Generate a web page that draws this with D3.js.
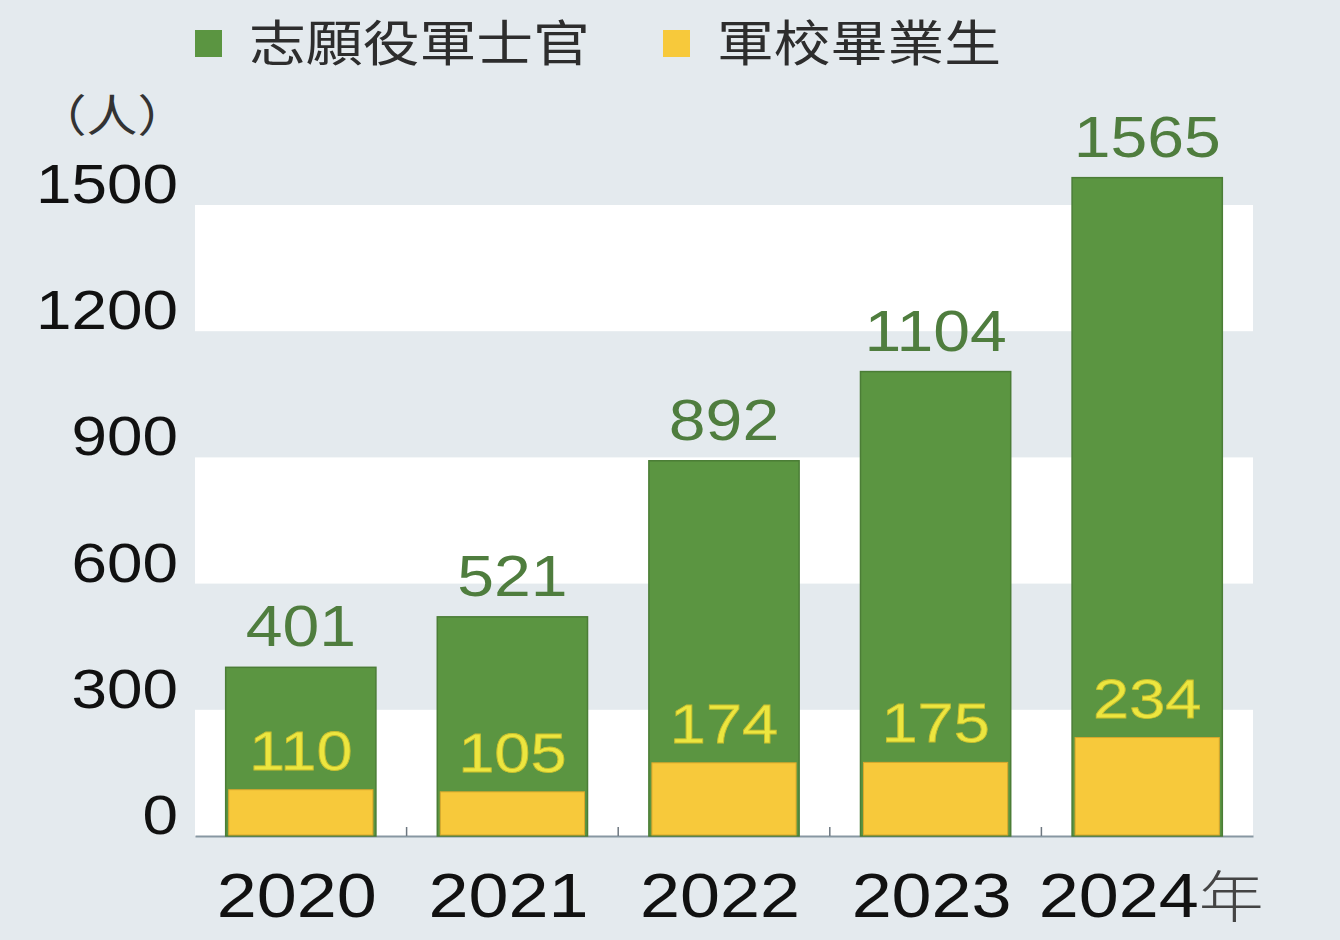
<!DOCTYPE html>
<html>
<head>
<meta charset="utf-8">
<script src="https://cdn.jsdelivr.net/npm/d3@7"></script>
<style>
  body { margin: 0; background: #e4eaee; }
  svg { display: block; }
</style>
</head>
<body>
<div id="chart"></div>
<script>
// data
var years = ['2020', '2021', '2022', '2023', '2024'];
var totals = [401, 521, 892, 1104, 1565];      // 志願役軍士官 total (label on top)
var graduates = [110, 105, 174, 175, 234];     // 軍校畢業生 part
var yTicks = [0, 300, 600, 900, 1200, 1500];
var legendNames = ['志願役軍士官', '軍校畢業生'];

var W = 1340, H = 940;
var plot = {left: 195, right: 1253, top: 205, bottom: 836};
var green = '#5b9541', yellow = '#f7c93b';
var latin = '"Liberation Sans", Arial, sans-serif';
var cjk = '"Noto Sans CJK TC", "Noto Sans CJK SC", sans-serif';
var stretch = 1.16; // the source text is a bit wide

var svg = d3.select('#chart')
    .append('svg')
    .attr('width', W)
    .attr('height', H);

svg.append('rect')
    .attr('width', W)
    .attr('height', H)
    .attr('fill', '#e4eaee');

var x = d3.scaleBand()
    .domain(years)
    .range([plot.left, plot.right])
    .paddingInner(0.29)
    .paddingOuter(0.145);

var y = d3.scaleLinear()
    .domain([0, 1500])
    .range([plot.bottom, plot.top]);

// helper: text placed with a horizontal stretch
function label(g, tx, ty, anchor) {
    return g.attr('text-anchor', anchor)
        .attr('transform', 'translate(' + tx + ',' + ty + ') scale(' + stretch + ',1)');
}

// white bands every other 300
var bands = d3.pairs(yTicks).filter((d, i) => i % 2 == 0);
svg.selectAll('.band')
    .data(bands).enter()
    .append('rect')
    .attr('class', 'band')
    .attr('x', plot.left)
    .attr('width', plot.right - plot.left)
    .attr('y', d => y(d[1]))
    .attr('height', d => y(d[0]) - y(d[1]))
    .attr('fill', '#ffffff');

// y tick labels
svg.selectAll('.ylab')
    .data(yTicks).enter()
    .append('text')
    .attr('class', 'ylab')
    .each(function(d) { label(d3.select(this), 178, y(d) - 2, 'end'); })
    .attr('font-family', latin)
    .attr('font-size', 55)
    .attr('fill', '#111')
    .text(d => d);

label(svg.append('text'), 112, 132, 'middle')
    .attr('font-family', cjk)
    .attr('font-size', 44)
    .attr('fill', '#333')
    .text('（人）');

// x axis line and category ticks
var xAxis = d3.axisBottom(x).tickSize(0).tickFormat('');
svg.append('g')
    .attr('transform', 'translate(0,' + plot.bottom + ')')
    .call(xAxis)
    .call(g => g.select('.domain').attr('stroke', '#8797a2').attr('stroke-width', 2));

svg.selectAll('.sep')
    .data(years.slice(1)).enter()
    .append('line')
    .attr('x1', d => x(d) - x.step() * x.paddingInner() / 2)
    .attr('x2', d => x(d) - x.step() * x.paddingInner() / 2)
    .attr('y1', plot.bottom)
    .attr('y2', plot.bottom - 9)
    .attr('stroke', '#6d7780')
    .attr('stroke-width', 1.5);

// bars
var rows = years.map((d, i) => ({year: d, total: totals[i], grad: graduates[i]}));

svg.selectAll('.tot')
    .data(rows).enter()
    .append('rect')
    .attr('x', d => x(d.year))
    .attr('width', x.bandwidth())
    .attr('y', d => y(d.total))
    .attr('height', d => y(0) - y(d.total))
    .attr('fill', green)
    .attr('stroke', '#4b7d36')
    .attr('stroke-width', 1.5);

svg.selectAll('.grad')
    .data(rows).enter()
    .append('rect')
    .attr('x', d => x(d.year) + 3)
    .attr('width', x.bandwidth() - 6)
    .attr('y', d => y(d.grad))
    .attr('height', d => y(0) - y(d.grad) - 1)
    .attr('fill', yellow)
    .attr('stroke', '#d9a72c')
    .attr('stroke-width', 1);

// value labels
svg.selectAll('.totlab')
    .data(rows).enter()
    .append('text')
    .each(function(d) { label(d3.select(this), x(d.year) + x.bandwidth() / 2, y(d.total) - 21, 'middle'); })
    .attr('font-family', latin)
    .attr('font-size', 57)
    .attr('fill', '#4f7d3e')
    .text(d => d.total);

svg.selectAll('.gradlab')
    .data(rows).enter()
    .append('text')
    .each(function(d) { label(d3.select(this), x(d.year) + x.bandwidth() / 2, y(d.grad) - 20, 'middle'); })
    .attr('font-family', latin)
    .attr('font-size', 56)
    .attr('fill', '#ece63f')
    .attr('stroke', '#c8be2e')
    .attr('stroke-width', 0.8)
    .text(d => d.grad);

// year labels
svg.selectAll('.xlab')
    .data(years).enter()
    .append('text')
    .each(function(d) { label(d3.select(this), x(d) + x.bandwidth() / 2 + (d == '2024' ? 4 : -4), 917, 'middle'); })
    .attr('font-family', latin)
    .attr('font-size', 62)
    .attr('fill', '#111')
    .text(d => d)
    .append('tspan')
    .attr('font-family', cjk)
    .attr('font-size', 56)
    .attr('font-weight', 300)
    .attr('fill', '#444')
    .text(d => d == '2024' ? '年' : '');

// legend
var legendX = [195, 663];
var legend = svg.selectAll('.leg')
    .data(legendNames).enter()
    .append('g')
    .attr('transform', (d, i) => 'translate(' + legendX[i] + ',0)');

legend.append('rect')
    .attr('y', 30)
    .attr('width', 27)
    .attr('height', 27)
    .attr('fill', (d, i) => i == 0 ? green : yellow);

legend.append('text')
    .each(function() { label(d3.select(this), 54, 61, 'start'); })
    .attr('font-family', cjk)
    .attr('font-size', 49)
    .attr('fill', '#2d2d2d')
    .text(d => d);
</script>
</body>
</html>
